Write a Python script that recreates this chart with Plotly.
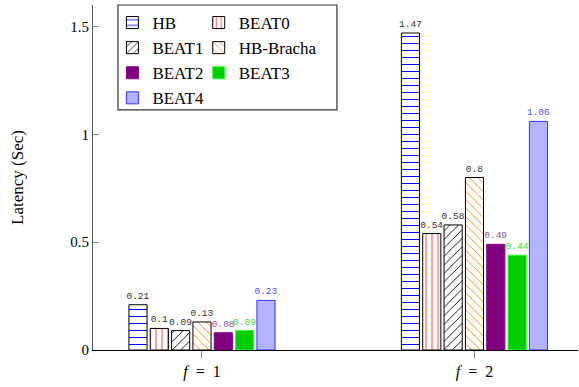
import plotly.graph_objects as go

NB = "\u00a0"
categories = [f"<i>f</i>{NB}{NB}={NB}{NB}1", f"<i>f</i>{NB}{NB}={NB}{NB}2"]
series_names = ["HB", "BEAT0", "BEAT1", "HB-Bracha", "BEAT2", "BEAT3", "BEAT4"]
hb = [0.21, 1.47]
beat0 = [0.1, 0.54]
beat1 = [0.09, 0.58]
hb_bracha = [0.13, 0.8]
beat2 = [0.08, 0.49]
beat3 = [0.09, 0.44]
beat4 = [0.23, 1.06]
values = [hb, beat0, beat1, hb_bracha, beat2, beat3, beat4]
y_ticks = [0, 0.5, 1, 1.5]
y_tick_labels = ["0", "0.5", "1", "1.5"]

SERIF = "Liberation Serif, serif"

styles = [
    dict(fill="white", line="black", shape="-", fg="#0000ff", size=7, text="#333333"),
    dict(fill="white", line="black", shape="|", fg="#ff3030", size=6, text="#333333"),
    dict(fill="white", line="black", shape="/", fg="black", size=6, text="#333333"),
    dict(fill="white", line="black", shape="\\", fg="#ff8000", size=6, text="#333333"),
    dict(fill="#800080", line="#800080", shape="", fg=None, size=None, text="#994d99"),
    dict(fill="#00cc00", line="#33ff33", shape="", fg=None, size=None, text="#33dd33"),
    dict(fill="#b3b3ff", line="#3333ff", shape="", fg=None, size=None, text="#4d4dff"),
]
legend_of = ["legend", "legend2", "legend", "legend2", "legend", "legend2", "legend"]

fig = go.Figure()
for name, vals, st, lg in zip(series_names, values, styles, legend_of):
    marker = dict(color=st["fill"], line=dict(color=st["line"], width=1))
    if st["shape"]:
        marker["pattern"] = dict(shape=st["shape"], fgcolor=st["fg"], bgcolor="white",
                                 size=st["size"], solidity=0.15, fillmode="replace")
    fig.add_trace(go.Bar(
        x=categories, y=vals, name=name, marker=marker,
        text=[f"{v:g}" for v in vals], textposition="outside", constraintext="none",
        textfont=dict(family="Liberation Mono, monospace", size=9.5, color=st["text"]),
        cliponaxis=False, legend=lg,
    ))

fig.update_layout(
    width=579, height=387,
    margin=dict(l=93, r=1, t=5, b=37),
    plot_bgcolor="white", paper_bgcolor="white",
    barmode="group", bargap=0.452, bargroupgap=0.15,
    font=dict(family=SERIF, size=15, color="black"),
    xaxis=dict(range=[-0.40, 1.38], showline=True, linecolor="black", linewidth=1,
               ticks="outside", ticklen=7, tickcolor="#888888",
               tickfont=dict(family=SERIF, size=16), showgrid=False, zeroline=False),
    yaxis=dict(range=[0, 1.6], showline=True, linecolor="#555555", linewidth=1,
               tickvals=y_ticks, ticktext=y_tick_labels,
               ticks="inside", ticklen=6, tickcolor="#888888",
               tickfont=dict(family=SERIF, size=15), showgrid=False, zeroline=False,
               title=dict(text="Latency (Sec)", font=dict(family=SERIF, size=17), standoff=42)),
    legend=dict(x=0.04, y=1, xanchor="left", yanchor="top", bgcolor="rgba(0,0,0,0)",
                font=dict(family=SERIF, size=17), tracegroupgap=0),
    legend2=dict(x=0.218, y=1, xanchor="left", yanchor="top", bgcolor="rgba(0,0,0,0)",
                 font=dict(family=SERIF, size=17), tracegroupgap=0),
    shapes=[dict(type="rect", xref="paper", yref="paper", x0=0.0515, x1=0.503,
                 y0=0.696, y1=1.0, line=dict(color="#333333", width=1.2))],
)

fig.write_html("out.html", config={"displayModeBar": False},
               post_script="document.body.style.margin='0';")
